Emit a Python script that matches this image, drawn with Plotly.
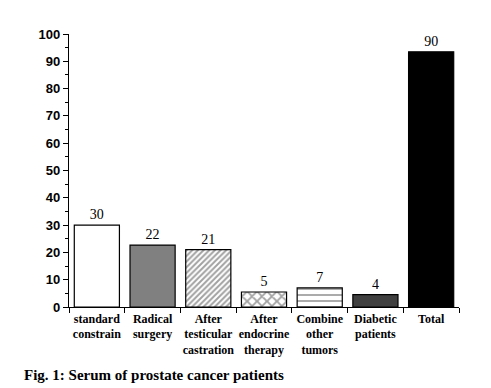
import plotly.graph_objects as go

categories = ["standard<br>constrain", "Radical<br>surgery", "After<br>testicular<br>castration",
              "After<br>endocrine<br>therapy", "Combine<br>other<br>tumors", "Diabetic<br>patients", "Total"]
bar_heights = [30, 22.7, 21, 5.5, 7, 4.5, 93.5]
bar_labels = ["30", "22", "21", "5", "7", "4", "90"]
fill_colors = ["white", "#808080", "white", "white", "white", "#404040", "black"]
pattern_shapes = ["", "", "/", "x", "-", "", ""]
pattern_sizes = [6, 6, 4, 7, 6, 6, 6]
pattern_solidity = [0.3, 0.3, 0.5, 0.45, 0.3, 0.3, 0.3]
y_ticks = list(range(0, 101, 10))

fig = go.Figure(go.Bar(
    x=categories, y=bar_heights, text=bar_labels, textposition="outside",
    textfont=dict(family="Liberation Serif", size=14, color="black"),
    marker=dict(color=fill_colors, line=dict(color="black", width=1.2),
                pattern=dict(shape=pattern_shapes, fgcolor="black", bgcolor=fill_colors,
                             size=pattern_sizes, solidity=pattern_solidity, fillmode="overlay")),
    width=0.81, cliponaxis=False,
))

fig.update_layout(
    width=491, height=388, margin=dict(l=61, r=40, t=26, b=89, autoexpand=False),
    paper_bgcolor="white", plot_bgcolor="white", showlegend=False,
    font=dict(family="Liberation Serif", color="black"),
    xaxis=dict(showline=True, linecolor="black", linewidth=1.2, ticks="outside",
               tickson="boundaries", ticklen=5, tickcolor="black", tickangle=0, automargin=False,
               tickfont=dict(family="Liberation Serif", size=12, color="black", weight="bold"),
               showgrid=False),
    yaxis=dict(range=[0, 100], tickvals=y_ticks, showline=True, linecolor="black", linewidth=1.2,
               ticks="outside", ticklen=5, tickcolor="black", showgrid=False, zeroline=False,
               automargin=False,
               tickfont=dict(family="Liberation Sans", size=13, color="black", weight="bold"),
               minor=dict(dtick=5, ticks="outside", ticklen=3, tickcolor="black")),
    annotations=[dict(text="<b>Fig. 1: Serum of prostate cancer patients</b>", xref="paper", yref="paper",
                      x=-47/390, y=-68/273, xanchor="left", yanchor="middle", showarrow=False,
                      font=dict(family="Liberation Serif", size=15, color="black"))],
)

fig.write_html("out.html")
